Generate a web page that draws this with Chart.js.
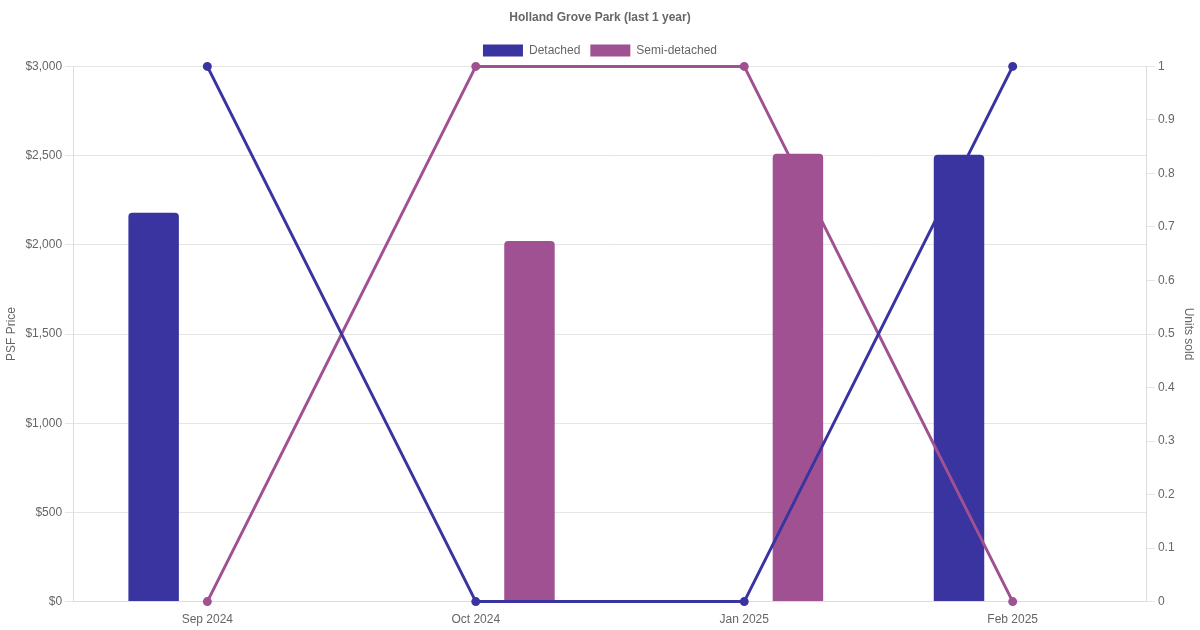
<!DOCTYPE html>
<html>
<head>
<meta charset="utf-8">
<script src="https://cdn.jsdelivr.net/npm/chart.js@4/dist/chart.umd.min.js"></script>
<style>
html,body{margin:0;padding:0;background:#fff;}
#wrap{width:1200px;height:630px;}
</style>
</head>
<body>
<div id="wrap"><canvas id="c"></canvas></div>
<script>
const categories = ['Sep 2024', 'Oct 2024', 'Jan 2025', 'Feb 2025'];
const detachedPsf = [2180, null, null, 2505];
const semiPsf = [null, 2022, 2510, null];
const detachedUnits = [1, 0, 0, 1];
const semiUnits = [0, 1, 1, 0];
const blue = '#3a34a0';
const purple = '#a05191';

Chart.defaults.font.family = '"Liberation Sans", Arial, Helvetica, sans-serif';
Chart.defaults.color = '#666';

new Chart(document.getElementById('c'), {
  type: 'bar',
  data: {
    labels: categories,
    datasets: [
      {label: 'Detached', data: detachedPsf, backgroundColor: blue, borderColor: blue, borderWidth: 0, borderRadius: 4, borderSkipped: 'bottom', yAxisID: 'y', order: 2, categoryPercentage: 0.8, barPercentage: 0.47},
      {label: 'Semi-detached', data: semiPsf, backgroundColor: purple, borderColor: purple, borderWidth: 0, borderRadius: 4, borderSkipped: 'bottom', yAxisID: 'y', order: 2, categoryPercentage: 0.8, barPercentage: 0.47},
      {type: 'line', label: 'Detached units', data: detachedUnits, borderColor: blue, backgroundColor: blue, borderWidth: 3, pointRadius: 3, pointHoverRadius: 3, yAxisID: 'y1', order: 1, fill: false, tension: 0, clip: false},
      {type: 'line', label: 'Semi-detached units', data: semiUnits, borderColor: purple, backgroundColor: purple, borderWidth: 3, pointRadius: 3, pointHoverRadius: 3, yAxisID: 'y1', order: 1, fill: false, tension: 0, clip: false}
    ]
  },
  options: {
    responsive: true,
    maintainAspectRatio: false,
    animation: false,
    layout: {padding: {left: 0, right: 0, top: 0, bottom: 0}},
    plugins: {
      title: {display: true, text: 'Holland Grove Park (last 1 year)', font: {size: 12, weight: 'bold'}, color: '#666', padding: {top: 10, bottom: 10}},
      legend: {
        display: true,
        labels: {
          boxWidth: 40, boxHeight: 12, font: {size: 12}, color: '#666',
          filter: (item) => item.datasetIndex < 2
        }
      },
      tooltip: {enabled: false}
    },
    scales: {
      x: {
        offset: true,
        grid: {display: false, drawTicks: true},
        border: {color: '#ddd'},
        ticks: {font: {size: 12}, color: '#666'}
      },
      y: {
        position: 'left',
        min: 0, max: 3000,
        ticks: {stepSize: 500, font: {size: 12}, color: '#666', callback: v => '$' + v.toLocaleString('en-US')},
        grid: {color: '#e5e5e5'},
        border: {color: '#ddd'},
        title: {display: true, text: 'PSF Price', font: {size: 12}, color: '#666'}
      },
      y1: {
        position: 'right',
        min: 0, max: 1,
        ticks: {stepSize: 0.1, font: {size: 12}, color: '#666', callback: v => String(Math.round(v * 10) / 10)},
        grid: {drawOnChartArea: false},
        border: {color: '#ddd'},
        title: {display: true, text: 'Units sold', font: {size: 12}, color: '#666'}
      }
    }
  }
});
</script>
</body>
</html>
